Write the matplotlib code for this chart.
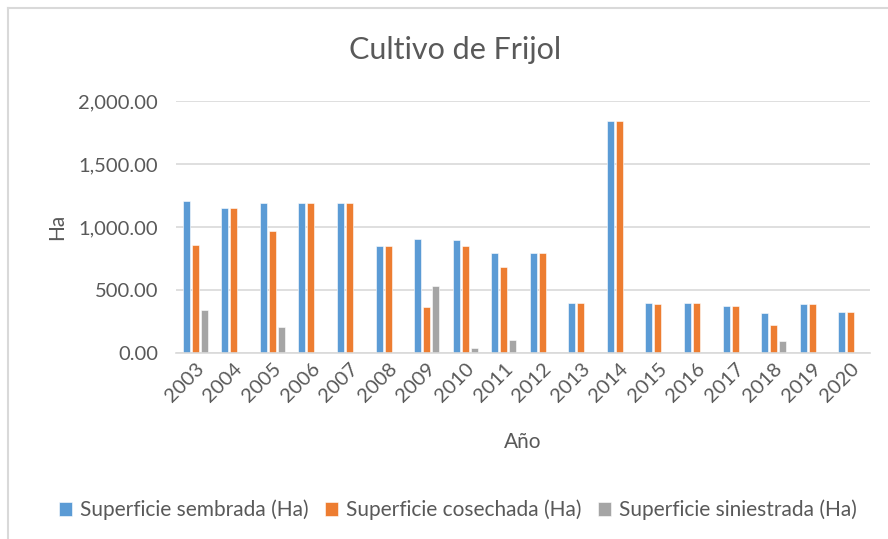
import matplotlib

matplotlib.use("Agg")
import matplotlib.pyplot as plt
import numpy as np
from matplotlib.lines import Line2D
from matplotlib.ticker import FuncFormatter

years = [str(y) for y in range(2003, 2021)]
sembrada = [1204, 1150, 1190, 1190, 1190, 848, 904, 896, 797, 797,
            399, 1845, 399, 399, 372, 314, 388, 322]
cosechada = [856, 1150, 970, 1190, 1190, 848, 362, 848, 683, 797,
             399, 1845, 388, 399, 372, 221, 388, 322]
siniestrada = [340, 0, 210, 0, 0, 0, 532, 37, 104, 0,
               0, 0, 0, 0, 0, 96, 0, 0]

series = [
    ("Superficie sembrada (Ha)", sembrada, "#5b9bd5"),
    ("Superficie cosechada (Ha)", cosechada, "#ed7d31"),
    ("Superficie siniestrada (Ha)", siniestrada, "#a5a5a5"),
]

plt.rcParams["font.family"] = ["Lato", "DejaVu Sans"]
txt = "#595959"

fig = plt.figure(figsize=(8.88, 5.39), dpi=100)
ax = fig.add_axes([176 / 888, 1 - 353 / 539, 694 / 888, 252 / 539])

x = np.arange(len(years))
w = 0.18
step = 0.234
for i, (name, vals, col) in enumerate(series):
    ax.bar(x + (i - 1) * step, vals, width=w, color=col, label=name,
           edgecolor="white", linewidth=0.4)

ax.set_xlim(-0.5, len(years) - 0.5)
ax.set_ylim(0, 2000)
ax.set_yticks([0, 500, 1000, 1500, 2000])
ax.yaxis.set_major_formatter(FuncFormatter(lambda v, p: f"{v:,.2f}"))
ax.set_xticks(x)
ax.set_xticklabels(years, rotation=45, ha="right", rotation_mode="anchor")
ax.grid(axis="y", color="#d9d9d9", linewidth=1.2)
ax.set_axisbelow(True)
for s in ("top", "right", "left"):
    ax.spines[s].set_visible(False)
ax.spines["bottom"].set_color("#d9d9d9")
ax.spines["bottom"].set_linewidth(1.2)
ax.tick_params(axis="both", length=0, labelsize=14.5, colors=txt)
ax.tick_params(axis="y", pad=13)
ax.tick_params(axis="x", pad=5)

ax.set_ylabel("Ha", fontsize=15, color=txt, labelpad=8)
ax.set_xlabel("Año", fontsize=15, color=txt, labelpad=19)
fig.text(455 / 888, 1 - 50 / 539, "Cultivo de Frijol", ha="center", va="center",
         fontsize=22, color=txt)

fig.legend(loc="center", bbox_to_anchor=(458 / 888, 1 - 510 / 539), ncol=3,
           frameon=False, fontsize=15, labelcolor=txt, handlelength=0.6,
           handleheight=0.6, handletextpad=0.4, columnspacing=0.8)

# chart border (top and left edges visible)
fig.add_artist(Line2D([8 / 888, 1], [1 - 8 / 539] * 2, color="#d9d9d9", lw=1.5,
                      transform=fig.transFigure))
fig.add_artist(Line2D([8 / 888] * 2, [0, 1 - 8 / 539], color="#d9d9d9", lw=1.5,
                      transform=fig.transFigure))

fig.savefig("out.png", dpi=100)
